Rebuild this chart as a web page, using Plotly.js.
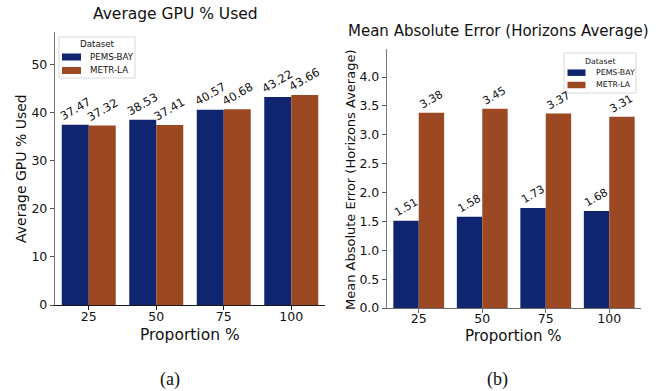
<!DOCTYPE html>
<html>
<head>
<meta charset="utf-8">
<script src="https://cdn.plot.ly/plotly-3.0.1.min.js"></script>
<style>
  html, body { margin: 0; padding: 0; background: #fff; }
  #chart { width: 660px; height: 391px; }
</style>
</head>
<body>
<div id="chart"></div>
<script>
// Data
const proportions = ['25', '50', '75', '100'];
const seriesNames = ['PEMS-BAY', 'METR-LA'];
const gpuPemsBay = [37.47, 38.53, 40.57, 43.22];
const gpuMetrLa = [37.32, 37.41, 40.68, 43.66];
const maePemsBay = [1.51, 1.58, 1.73, 1.68];
const maeMetrLa = [3.38, 3.45, 3.37, 3.31];

const seriesColors = ['#10256f', '#9c4822'];
const FONT = '"DejaVu Sans", sans-serif';
const TEXT = '#111';
const W = 660, H = 391;

const fx = p => p / W;          // pixel x -> paper x
const fy = p => 1 - p / H;      // pixel y -> paper y

// Plot rectangles of the two panels, in pixels
const panels = [
  { left: 55, right: 325, top: 32, bottom: 305 },
  { left: 387, right: 641, top: 49, bottom: 308 }
];

const idx = proportions.map((_, i) => i);
const panelSeries = [
  [gpuPemsBay, gpuMetrLa],
  [maePemsBay, maeMetrLa]
];

const traces = [];
const annotations = [];
const shapes = [];

panelSeries.forEach((series, p) => {
  const xa = p === 0 ? 'x' : 'x2';
  const ya = p === 0 ? 'y' : 'y2';
  series.forEach((vals, s) => {
    traces.push({
      type: 'bar',
      x: idx,
      y: vals,
      name: seriesNames[s],
      xaxis: xa,
      yaxis: ya,
      marker: { color: seriesColors[s], line: { width: 0 } },
      showlegend: false,
      hoverinfo: 'y'
    });
    // value labels above each bar
    vals.forEach((v, i) => {
      annotations.push({
        xref: xa, yref: ya,
        x: i + (s === 0 ? -0.2 : 0.2), y: v,
        text: v.toFixed(2),
        showarrow: false,
        xanchor: 'center', yanchor: 'bottom',
        textangle: -30,
        yshift: 0,
        borderpad: 0,
        font: { family: FONT, size: p === 0 ? 11.5 : 11, color: TEXT }
      });
    });
  });
});

// Titles, axis titles and panel captions
const textItems = [
  { x: 175, y: 14, text: 'Average GPU % Used', size: 15.5 },
  { x: 498, y: 31, text: 'Mean Absolute Error (Horizons Average)', size: 15 },
  { x: 190, y: 335, text: 'Proportion %', size: 15.5 },
  { x: 513, y: 336, text: 'Proportion %', size: 15 },
  { x: 21, y: 169, text: 'Average GPU % Used', size: 14, angle: -90 },
  { x: 351, y: 180, text: 'Mean Absolute Error (Horizons Average)', size: 13, angle: -90 },
  { x: 170, y: 379, text: '(a)', size: 18, serif: true },
  { x: 497, y: 379, text: '(b)', size: 18, serif: true }
];
textItems.forEach(t => {
  annotations.push({
    xref: 'paper', yref: 'paper',
    x: fx(t.x), y: fy(t.y),
    text: t.text, showarrow: false,
    xanchor: 'center', yanchor: 'middle',
    textangle: t.angle || 0,
    font: {
      family: t.serif ? '"Liberation Serif", "Times New Roman", serif' : FONT,
      size: t.size, color: TEXT
    }
  });
});

// Legends (one per panel)
const legends = [
  { left: 59, right: 135, top: 37, bottom: 78, titleY: 44, rowY: [57, 70.5],
    patchL: 62, patchR: 81, patchH: 7, textX: 87.5, size: 8.7 },
  { left: 564, right: 636, top: 53, bottom: 93, titleY: 61, rowY: [72.7, 85],
    patchL: 567.5, patchR: 585.5, patchH: 6.5, textX: 594, size: 7.8 }
];
legends.forEach(lg => {
  shapes.push({
    type: 'rect', xref: 'paper', yref: 'paper',
    x0: fx(lg.left), x1: fx(lg.right), y0: fy(lg.bottom), y1: fy(lg.top),
    line: { color: '#d9d9d9', width: 1 }, fillcolor: 'rgba(255,255,255,0.85)'
  });
  annotations.push({
    xref: 'paper', yref: 'paper',
    x: fx((lg.left + lg.right) / 2), y: fy(lg.titleY),
    text: 'Dataset', showarrow: false,
    xanchor: 'center', yanchor: 'middle',
    font: { family: FONT, size: lg.size, color: TEXT }
  });
  seriesNames.forEach((name, s) => {
    const cy = lg.rowY[s];
    shapes.push({
      type: 'rect', xref: 'paper', yref: 'paper',
      x0: fx(lg.patchL), x1: fx(lg.patchR),
      y0: fy(cy + lg.patchH / 2), y1: fy(cy - lg.patchH / 2),
      line: { width: 0 }, fillcolor: seriesColors[s]
    });
    annotations.push({
      xref: 'paper', yref: 'paper',
      x: fx(lg.textX), y: fy(cy),
      text: name, showarrow: false,
      xanchor: 'left', yanchor: 'middle',
      font: { family: FONT, size: lg.size, color: TEXT }
    });
  });
});

function xAxis(p, lineColor, standoff) {
  const r = panels[p];
  return {
    domain: [fx(r.left), fx(r.right)],
    anchor: p === 0 ? 'y' : 'y2',
    range: [-0.5, 3.5],
    tickmode: 'array', tickvals: idx, ticktext: proportions,
    showline: true, linecolor: lineColor, linewidth: 1.2,
    ticks: 'outside', ticklen: 4, tickwidth: 1, tickcolor: lineColor,
    ticklabelstandoff: standoff,
    showgrid: false, zeroline: false, fixedrange: true,
    tickfont: { family: FONT, size: 12.5, color: TEXT }
  };
}
function yAxis(p, maxVal, dtick, fmt) {
  const r = panels[p];
  return {
    domain: [fy(r.bottom), fy(r.top)],
    anchor: p === 0 ? 'x' : 'x2',
    range: [0, maxVal * 1.3],
    dtick: dtick, tick0: 0, tickformat: fmt,
    showline: true, linecolor: '#7a7a7a', linewidth: 1.2,
    ticks: 'outside', ticklen: 4, tickwidth: 1, tickcolor: '#555',
    showgrid: false, zeroline: false, fixedrange: true,
    tickfont: { family: FONT, size: 12.5, color: TEXT }
  };
}

const layout = {
  width: W, height: H,
  margin: { l: 0, r: 0, t: 0, b: 0 },
  paper_bgcolor: '#fff', plot_bgcolor: '#fff',
  barmode: 'group', bargap: 0.2, bargroupgap: 0,
  showlegend: false,
  xaxis: xAxis(0, '#1a1a1a', -4),
  yaxis: yAxis(0, Math.max(...gpuPemsBay, ...gpuMetrLa), 10, 'd'),
  xaxis2: xAxis(1, '#6e6e6e', -5),
  yaxis2: yAxis(1, Math.max(...maePemsBay, ...maeMetrLa), 0.5, '.1f'),
  annotations: annotations,
  shapes: shapes
};

Plotly.newPlot('chart', traces, layout, { staticPlot: true, displayModeBar: false });
</script>
</body>
</html>
